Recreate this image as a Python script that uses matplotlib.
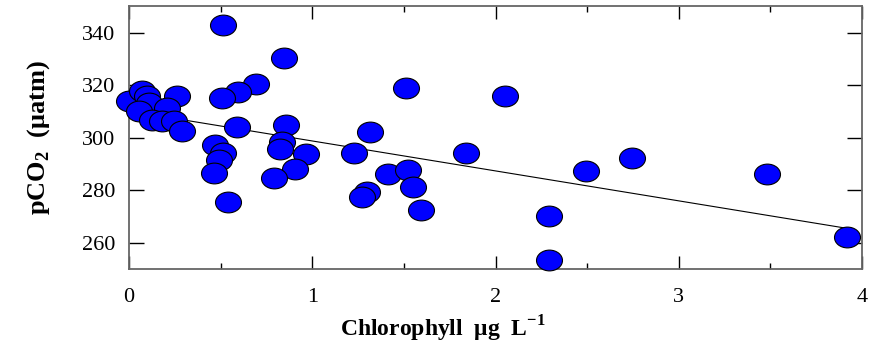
import numpy as np
import matplotlib
matplotlib.use("Agg")
import matplotlib.pyplot as plt
from matplotlib.path import Path
from matplotlib.ticker import MultipleLocator

# chlorophyll (ug/L) and pCO2 (uatm)
chl = [0.0, 0.071, 0.098, 0.107, 0.053, 0.262, 0.207, 0.126, 0.18, 0.244, 0.29,
       0.515, 0.844, 0.695, 0.595, 0.509, 0.589, 0.859, 0.471, 0.513, 0.493,
       0.464, 0.542, 0.833, 0.824, 0.964, 0.906, 0.793,
       1.23, 1.313, 1.412, 1.297, 1.27, 1.51, 1.524, 1.548, 1.592, 1.84,
       2.052, 2.292, 2.292, 2.492, 2.743, 3.483, 3.916]
pco2 = [314.2, 317.8, 315.9, 313.3, 310.2, 315.9, 311.4, 307.0, 306.6, 306.4, 302.5,
        343.2, 330.4, 320.4, 317.6, 315.1, 304.2, 305.1, 297.3, 294.4, 291.6,
        286.7, 275.6, 298.6, 295.7, 293.8, 288.2, 284.6,
        294.1, 302.3, 286.2, 279.3, 277.6, 318.9, 287.6, 281.3, 272.6, 294.4,
        315.9, 270.4, 253.5, 287.4, 292.3, 286.4, 262.3]

x_ticks = [0, 1, 2, 3, 4]
y_ticks = [260, 280, 300, 320, 340]

plt.rcParams['font.family'] = ['Liberation Serif', 'DejaVu Serif']
plt.rcParams['mathtext.fontset'] = 'custom'
plt.rcParams['mathtext.rm'] = 'Liberation Serif'
plt.rcParams['mathtext.bf'] = 'Liberation Serif:bold'

fig = plt.figure(figsize=(8.69, 3.46), dpi=100)
ax = fig.add_axes([129 / 869, 1 - 269 / 346, 733 / 869, 263 / 346])

# regression line behind the points
x = np.array(chl)
y = np.array(pco2)
slope, icpt = np.polyfit(x, y, 1)
xl = np.array([x.min(), x.max()])
ax.plot(xl, icpt + slope * xl, color='black', lw=0.8, zorder=1)

# flattened ellipse marker
circ = Path.unit_circle()
ell = Path(circ.vertices * np.array([1.0, 0.8]), circ.codes)
ax.plot(x, y, linestyle='none', marker=ell, markersize=18.7,
        markerfacecolor='#0000ff', markeredgecolor='black', markeredgewidth=0.8,
        zorder=3, clip_on=False)

ax.set_xlim(0, 4)
ax.set_ylim(250, 350.3)
ax.set_xticks(x_ticks)
ax.set_yticks(y_ticks)
ax.xaxis.set_minor_locator(MultipleLocator(0.5))
ax.tick_params(axis='both', which='both', direction='in', top=True, right=True,
               labelsize=16, colors='black', width=1)
ax.tick_params(axis='y', which='major', length=11)
ax.tick_params(axis='x', which='major', length=9.5)
ax.tick_params(axis='x', which='minor', length=4.3)
ax.tick_params(axis='y', which='major', pad=10)
ax.tick_params(axis='x', which='major', pad=14)
for s in ax.spines.values():
    s.set_color('#666666')
    s.set_linewidth(1.3)

ax.set_xlabel(r'Chlorophyll  $\mathbf{\mu}$g  L$^{\mathbf{-1}}$', fontsize=17,
              fontweight='bold')
ax.xaxis.set_label_coords((443 - 129) / 733, -0.17)
ax.set_ylabel(r'pCO$_{\mathbf{2}}$  ($\mathbf{\mu}$atm)', fontsize=19,
              fontweight='bold')
ax.yaxis.set_label_coords(-(129 - 52) / 733, 0.5)

fig.savefig('out.png', dpi=100)
